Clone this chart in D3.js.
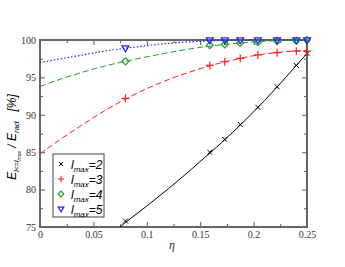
<!DOCTYPE html>
<html>
<head>
<meta charset="utf-8">
<script src="https://cdn.jsdelivr.net/npm/d3@7"></script>
<style>
body { margin: 0; background: #fff; }
</style>
</head>
<body>
<div id="chart"></div>
<script>
// measured points
var etaPts = [0.08, 0.159, 0.173, 0.1875, 0.204, 0.222, 0.24, 0.25];
var l2Pts = [75.8, 85.0, 86.7, 88.7, 91.0, 93.75, 96.6, 98.2];
var l3Pts = [92.2, 96.6, 97.1, 97.55, 98.0, 98.3, 98.5, 98.5];
var l4Pts = [97.15, 99.3, 99.4, 99.6, 99.7, 99.85, 99.9, 100];
var l5Pts = [98.9, 99.95, 99.95, 99.95, 99.95, 99.95, 99.95, 99.95];

// fitted curves
var l2FitEta = [0.075, 0.08, 0.1, 0.12, 0.14, 0.16, 0.18, 0.2, 0.22, 0.24, 0.25];
var l2Fit = [75, 75.6, 77.8, 80.1, 82.5, 85.0, 87.6, 90.4, 93.4, 96.6, 98.2];
var fitEta = [0, 0.02, 0.04, 0.06, 0.08, 0.1, 0.12, 0.14, 0.16, 0.18, 0.2, 0.22, 0.25];
var l3Fit = [84.8, 86.8, 88.7, 90.5, 92.1, 93.5, 94.7, 95.7, 96.6, 97.3, 97.9, 98.3, 98.6];
var l4Fit = [93.8, 94.8, 95.7, 96.5, 97.15, 97.75, 98.3, 98.8, 99.2, 99.5, 99.75, 99.9, 100];
var l5Fit = [97.0, 97.5, 98.0, 98.5, 98.9, 99.25, 99.55, 99.75, 99.9, 99.97, 100, 100, 100];

var xTicks = [0, 0.05, 0.1, 0.15, 0.2, 0.25];
var yTicks = [75, 80, 85, 90, 95, 100];
var legendLabels = ["2", "3", "4", "5"];

var width = 345, height = 267;
var margin = {left: 40, right: 38, top: 40, bottom: 40};

var svg = d3.select("#chart").append("svg")
	.attr("width", width)
	.attr("height", height);

var x = d3.scaleLinear().domain([0, 0.25]).range([margin.left, width - margin.right]);
var y = d3.scaleLinear().domain([75, 100]).range([height - margin.bottom, margin.top]);

svg.append("clipPath").attr("id", "clip")
	.append("rect")
	.attr("x", x(0)).attr("y", y(100) - 1)
	.attr("width", x(0.25) - x(0)).attr("height", y(75) - y(100) + 1);

//ticks on all four sides, pointing in
var tickCol = "#555";
function drawAxis(axis, tr) {
	var g = svg.append("g").attr("transform", tr).call(axis);
	g.select(".domain").remove();
	g.selectAll("line").attr("stroke", tickCol).attr("stroke-width", 1);
	g.selectAll("text").attr("font-family", "Liberation Serif").attr("font-size", 10).attr("fill", "#333");
	return g;
}
drawAxis(d3.axisBottom(x).tickValues(xTicks).tickSize(-5).tickPadding(4).tickFormat(d3.format("")),
	"translate(0," + y(75) + ")");
drawAxis(d3.axisBottom(x).tickValues(d3.range(0.025, 0.25, 0.05)).tickSize(-3).tickFormat(""),
	"translate(0," + y(75) + ")");
drawAxis(d3.axisTop(x).tickValues(xTicks).tickSize(-5).tickFormat(""), "translate(0," + y(100) + ")");
drawAxis(d3.axisTop(x).tickValues(d3.range(0.025, 0.25, 0.05)).tickSize(-3).tickFormat(""), "translate(0," + y(100) + ")");
drawAxis(d3.axisLeft(y).tickValues(yTicks).tickSize(-5).tickPadding(4), "translate(" + x(0) + ",0)");
drawAxis(d3.axisLeft(y).tickValues(d3.range(77.5, 100, 5)).tickSize(-3).tickFormat(""), "translate(" + x(0) + ",0)");
drawAxis(d3.axisRight(y).tickValues(yTicks).tickSize(-5).tickFormat(""), "translate(" + x(0.25) + ",0)");
drawAxis(d3.axisRight(y).tickValues(d3.range(77.5, 100, 5)).tickSize(-3).tickFormat(""), "translate(" + x(0.25) + ",0)");

//frame
svg.append("rect")
	.attr("x", x(0)).attr("y", y(100))
	.attr("width", x(0.25) - x(0)).attr("height", y(75) - y(100))
	.attr("fill", "none").attr("stroke", "#666").attr("stroke-width", 2);

var series = [
	{fx: l2FitEta, fy: l2Fit, py: l2Pts, color: "#000", dash: null, w: 1, mark: "x"},
	{fx: fitEta, fy: l3Fit, py: l3Pts, color: "#ff2020", dash: "6,3", w: 1, mark: "plus"},
	{fx: fitEta, fy: l4Fit, py: l4Pts, color: "#22a022", dash: "6,3", w: 1, mark: "diamond"},
	{fx: fitEta, fy: l5Fit, py: l5Pts, color: "#2020ff", dash: "1.5,2", w: 1.2, mark: "tri"}
];

var line = d3.line().curve(d3.curveMonotoneX);
var plot = svg.append("g").attr("clip-path", "url(#clip)");

function drawMark(g, type, cx, cy, color, s) {
	s = s || 1;
	if (type == "x") {
		var a = 2.5 * s;
		g.append("path").attr("d", "M" + (cx - a) + "," + (cy - a) + "L" + (cx + a) + "," + (cy + a)
			+ "M" + (cx - a) + "," + (cy + a) + "L" + (cx + a) + "," + (cy - a))
			.attr("stroke", color).attr("stroke-width", 1);
	} else if (type == "plus") {
		var b = 4 * s;
		g.append("path").attr("d", "M" + (cx - b) + "," + cy + "L" + (cx + b) + "," + cy
			+ "M" + cx + "," + (cy - b) + "L" + cx + "," + (cy + b))
			.attr("stroke", color).attr("stroke-width", 1.2);
	} else if (type == "diamond") {
		var c = 3.5 * s;
		g.append("path").attr("d", "M" + cx + "," + (cy - c) + "L" + (cx + c) + "," + cy
			+ "L" + cx + "," + (cy + c) + "L" + (cx - c) + "," + cy + "Z")
			.attr("stroke", color).attr("stroke-width", 1.2).attr("fill", "none");
	} else {
		var d = 3.5 * s;
		g.append("path").attr("d", "M" + (cx - d) + "," + (cy - d * 0.7) + "L" + (cx + d) + "," + (cy - d * 0.7)
			+ "L" + cx + "," + (cy + d) + "Z")
			.attr("stroke", color).attr("stroke-width", 1.2).attr("fill", "none");
	}
}

series.forEach(function(s) {
	var pts = s.fx.map(function(e, i) { return [x(e), y(s.fy[i])]; });
	plot.append("path")
		.attr("d", line(pts))
		.attr("fill", "none")
		.attr("stroke", s.color)
		.attr("stroke-width", s.w)
		.attr("stroke-dasharray", s.dash);
});
series.forEach(function(s) {
	etaPts.forEach(function(e, i) {
		drawMark(svg, s.mark, x(e), y(s.py[i]), s.color);
	});
});

//legend
var leg = svg.append("g");
leg.append("rect")
	.attr("x", 53).attr("y", 154).attr("width", 51).attr("height", 63)
	.attr("fill", "#fff").attr("stroke", "#444").attr("stroke-width", 1);
legendLabels.forEach(function(l, i) {
	var ly = 164 + i * 15;
	drawMark(leg, series[i].mark, 61, ly, series[i].color, 0.8);
	var t = leg.append("text")
		.attr("x", 71).attr("y", ly + 5)
		.attr("font-family", "Liberation Sans").attr("font-style", "italic")
		.attr("font-size", 12).attr("fill", "#000");
	t.append("tspan").text("l");
	t.append("tspan").attr("font-size", 8).attr("dy", 3).text("max");
	t.append("tspan").attr("dy", -3).text("=" + l);
});

//axis labels
svg.append("text")
	.attr("x", 172).attr("y", 249)
	.attr("text-anchor", "middle")
	.attr("font-family", "Liberation Serif").attr("font-style", "italic")
	.attr("font-size", 12).attr("fill", "#333")
	.text("η");

var yl = svg.append("text")
	.attr("transform", "translate(16," + 137 + ") rotate(-90)")
	.attr("text-anchor", "middle")
	.attr("font-family", "Liberation Sans").attr("font-style", "italic")
	.attr("font-size", 12).attr("fill", "#000");
yl.append("tspan").text("E");
yl.append("tspan").attr("font-size", 7).attr("dy", 3).text("l<=l");
yl.append("tspan").attr("font-size", 5).attr("dy", 1.5).text("max");
yl.append("tspan").attr("dy", -4.5).text("  /  E");
yl.append("tspan").attr("font-size", 8).attr("dy", 3).text("rad");
yl.append("tspan").attr("dy", -3).attr("xml:space", "preserve").text("   [%]");
</script>
</body>
</html>
